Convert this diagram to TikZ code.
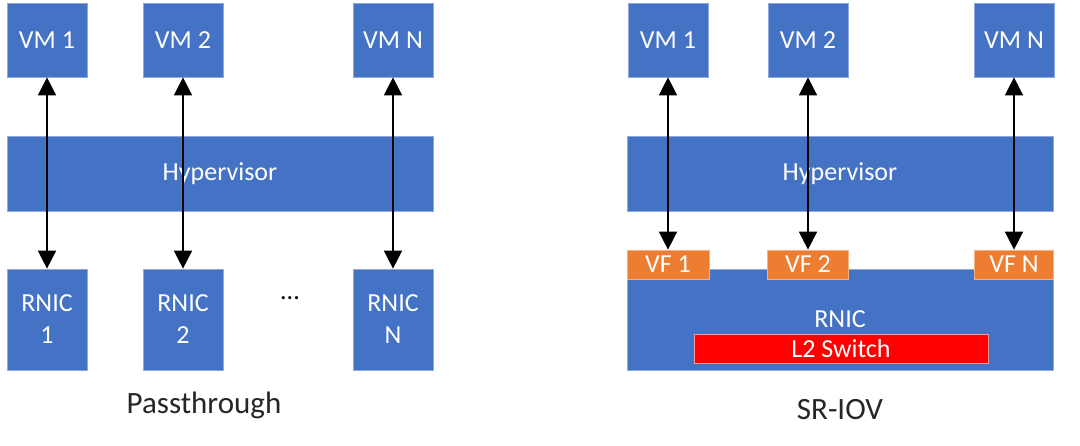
\documentclass[tikz,border=0pt]{standalone}
\usepackage{fontspec}
\setmainfont{Carlito}
\usetikzlibrary{arrows.meta}
\definecolor{boxblue}{HTML}{4472C4}
\definecolor{boxedge}{HTML}{8EA9DB}
\definecolor{vforange}{HTML}{ED7D31}
\definecolor{vfedge}{HTML}{F4B183}
\definecolor{swred}{HTML}{FF0000}
\definecolor{swedge}{HTML}{FF9999}
\definecolor{captext}{HTML}{262626}
\tikzset{
  box/.style={fill=boxblue, draw=boxedge, line width=0.7pt, inner sep=0pt, text=white,
    font=\fontsize{26}{32}\selectfont, align=center},
  vfbox/.style={box, fill=vforange, draw=vfedge, minimum height=29pt},
  swbox/.style={box, fill=swred, draw=swedge, minimum height=29pt},
  vmbox/.style={box, minimum width=80pt, minimum height=74pt},
  nicbox/.style={box, minimum width=80pt, minimum height=101pt},
  hypbox/.style={box, minimum width=426pt, minimum height=75pt},
  caption/.style={text=captext, font=\fontsize{31}{36}\selectfont, inner sep=0pt},
  biarrow/.style={line width=1.5pt, {Triangle[length=18pt,width=18pt]}-{Triangle[length=18pt,width=18pt]}}
}
\begin{document}
\begin{tikzpicture}[x=1pt, y=-1pt]
\useasboundingbox[fill=white] (0,0) rectangle (1080,445);
% ---------- Passthrough ----------
\node[vmbox] (vm1) at (47,40) {VM 1};
\node[vmbox] (vm2) at (183,40) {VM 2};
\node[vmbox] (vmn) at (393,40) {VM N};
\node[hypbox] (hyp) at (220,173.5) {Hypervisor};
\node[nicbox] (nic1) at (47,319.5) {RNIC\\1};
\node[nicbox] (nic2) at (183,319.5) {RNIC\\2};
\node[nicbox] (nicn) at (393,319.5) {RNIC\\N};
\node[inner sep=0pt, font=\fontsize{26}{30}\selectfont] (dots) at (290,298) {...};
\draw[biarrow] (vm1.south) -- (nic1.north);
\draw[biarrow] (vm2.south) -- (nic2.north);
\draw[biarrow] (vmn.south) -- (nicn.north);
\node[caption] (cap1) at (204,405) {Passthrough};
% ---------- SR-IOV ----------
\node[vmbox] (rvm1) at (668,40) {VM 1};
\node[vmbox] (rvm2) at (808,40) {VM 2};
\node[vmbox] (rvmn) at (1014,40) {VM N};
\node[hypbox] (rhyp) at (840,173.5) {Hypervisor};
\node[box, minimum width=426pt, minimum height=101pt] (rnic) at (840,319.5) {RNIC};
\node[vfbox, minimum width=82pt] (vf1) at (668,264.5) {VF 1};
\node[vfbox, minimum width=81pt] (vf2) at (808,264.5) {VF 2};
\node[vfbox, minimum width=79pt] (vfn) at (1014,264.5) {VF N};
\node[swbox, minimum width=294pt] (sw) at (841,348.5) {L2 Switch};
\draw[biarrow] (rvm1.south) -- (vf1.north);
\draw[biarrow] (rvm2.south) -- (vf2.north);
\draw[biarrow] (rvmn.south) -- (vfn.north);
\node[caption] (cap2) at (840,410) {SR-IOV};
\end{tikzpicture}
\end{document}
